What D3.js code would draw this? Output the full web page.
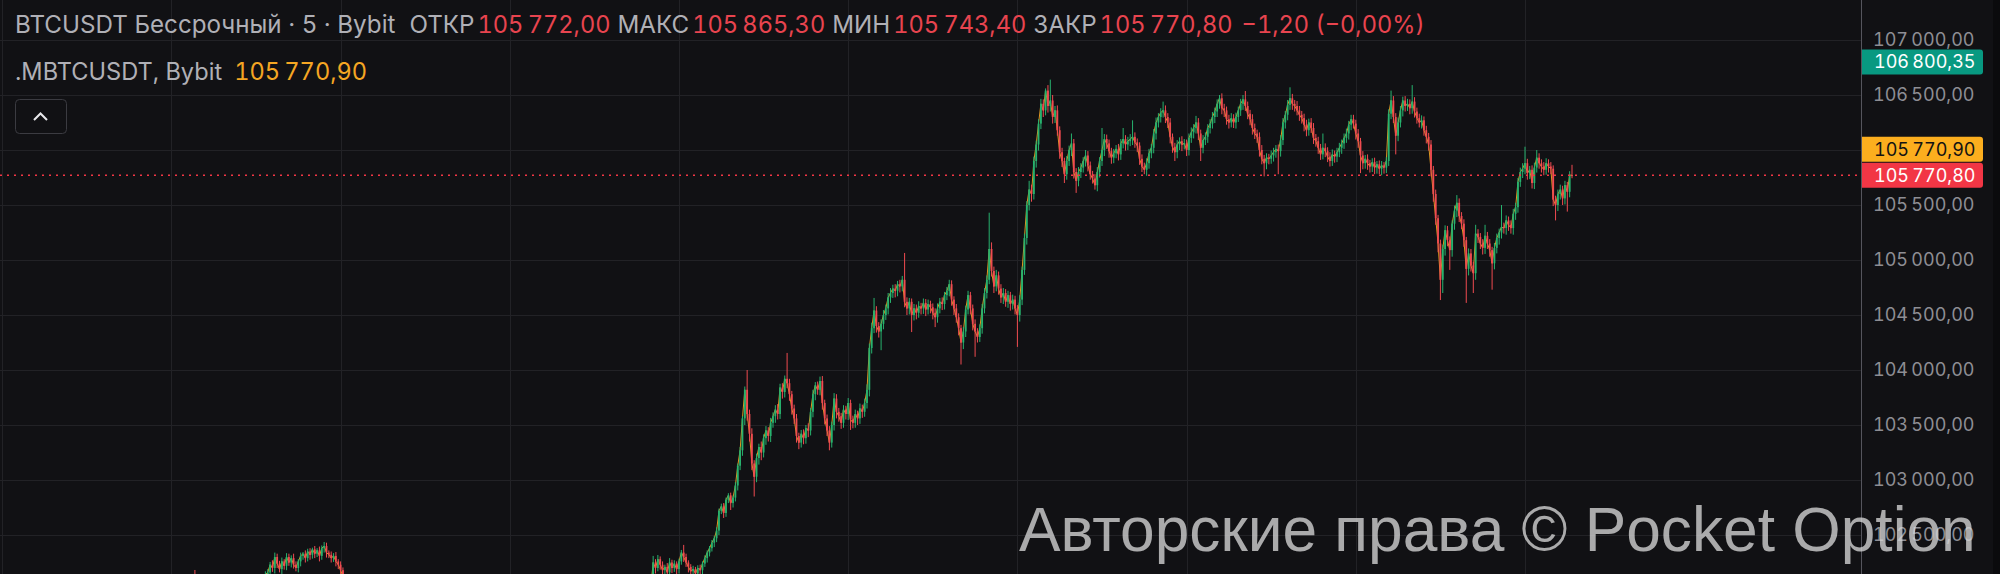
<!DOCTYPE html>
<meta charset="utf-8">
<style>
    body {
        margin: 0;
        background: #111114;
    }

    svg {
        display: block;
        font-family: Inter, 'Noto Sans', sans-serif;
        font-variant-numeric: tabular-nums;
    }
</style>
<svg width="2000" height="574"></svg>
<script src="https://d3js.org/d3.v7.min.js"></script>
<script>
    // 5 minute bars, the open of a bar is the close of the bar before it
    var firstOpen = 102000;

    var closes = [
        // 0-33, mostly under the bottom edge
        102020, 102060, 102090, 102040, 102070, 102030, 101990, 102010, 101960, 101930,
        101920, 101880, 101850, 101870, 101900, 101860, 101830, 101800, 101840, 101880,
        101910, 101890, 101930, 101960, 101940, 101980, 102010, 101990, 102030, 102060,
        102040, 102080, 102110, 102140,
        // 34-66, the small hump at the bottom left
        102160, 102230, 102200, 102300, 102240, 102190, 102260, 102220, 102300, 102250,
        102290, 102230, 102200, 102260, 102310, 102330, 102290, 102350, 102320, 102370,
        102330, 102360, 102310, 102380, 102400, 102340, 102320, 102290, 102310, 102260,
        102230, 102180, 102120,
        // 67-197, below the visible range
        102080, 102040, 101990, 102010, 101960, 101920, 101950, 101900, 101870, 101890,
        101840, 101810, 101850, 101800, 101760, 101790, 101740, 101700, 101730, 101690,
        101720, 101680, 101650, 101690, 101640, 101610, 101650, 101620, 101580, 101600,
        101560, 101590, 101540, 101570,
        101520, 101550, 101500, 101530, 101490, 101540, 101510, 101560, 101530, 101580,
        101550, 101600, 101570, 101620, 101590, 101640, 101610, 101580, 101630, 101600,
        101650, 101620, 101670, 101640, 101690, 101660, 101710, 101680, 101650, 101700,
        101670, 101650, 101690, 101660, 101640, 101680, 101650, 101630, 101660, 101640,
        101620, 101670, 101640, 101690, 101660, 101630, 101680, 101650, 101700, 101670,
        101720, 101690, 101740, 101710, 101680, 101730, 101700, 101750, 101720, 101770,
        101740, 101790, 101760, 101730, 101780, 101750, 101800, 101770, 101820, 101790,
        101840, 101810, 101780, 101830, 101800, 101850, 101820, 101870, 101840, 101890,
        101860, 101830, 101880, 101850, 101900, 101870, 101920, 101890, 101940, 101910,
        101960, 101930, 101980, 101950, 102000, 101970, 102020,
        // 198-237, climb out of the bottom
        102250, 102200, 102280, 102230, 102180, 102210, 102160, 102250, 102200, 102240,
        102190, 102260, 102340, 102300, 102250, 102210, 102170, 102190, 102150, 102200,
        102180, 102240, 102290, 102340, 102380, 102430, 102470, 102540, 102720, 102760,
        102700, 102820, 102860, 102790, 102840, 102950, 103130, 103270, 103560, 103820,
        // 238-289
        103600, 103420, 103150, 103030, 103200, 103300, 103250, 103380, 103450, 103400,
        103520, 103580, 103640, 103600, 103840, 103800, 103920, 103880, 103780, 103650,
        103560, 103400, 103340, 103420, 103380, 103470, 103450, 103620, 103780, 103860,
        103820, 103900, 103700, 103560, 103450, 103340, 103500, 103740, 103620, 103580,
        103520, 103640, 103600, 103700, 103550, 103520, 103600, 103560, 103650, 103620,
        103700, 103820,
        // 290-341
        104200, 104380, 104540, 104400, 104350, 104420, 104500, 104560, 104660, 104700,
        104740, 104720, 104780, 104760, 104820, 104620, 104560, 104620, 104500, 104560,
        104520, 104580, 104560, 104610, 104550, 104600, 104570, 104520, 104480, 104560,
        104620, 104600, 104680, 104720, 104780, 104640, 104560, 104480, 104380, 104250,
        104350, 104550, 104680, 104560, 104420, 104350, 104300, 104380, 104560, 104700,
        104820, 105100,
        // 342-366, the jump to the top
        104900, 104760, 104860, 104740, 104660, 104700, 104620, 104680, 104600, 104640,
        104560, 104500, 104640, 104910, 105200, 105500, 105640, 105600, 105900, 106050,
        106240, 106420, 106360, 106540, 106400,
        // 367-420
        106450, 106300, 106360, 106180, 105980, 105900, 105780, 105900, 106000, 106060,
        105800, 105720, 105800, 105840, 105900, 105950, 105860, 105780, 105740, 105680,
        105800, 105900, 106000, 106100, 106060, 105990, 105930, 105970, 106010, 105960,
        106060, 106100, 106050, 106080, 106100, 106120, 106070, 106040, 105920, 105850,
        105820, 105880, 105970, 106020, 106150, 106250, 106300, 106340, 106360, 106300,
        106250, 106120, 106030, 105980,
        // 421-480
        106050, 106080, 106050, 106060, 106000, 106110, 106160, 106200, 106250, 106150,
        106020, 106090, 106120, 106200, 106240, 106300, 106350, 106420, 106470, 106380,
        106360, 106280, 106250, 106290, 106250, 106300, 106360, 106420, 106460, 106400,
        106330, 106280, 106200, 106150, 106120, 106000, 105920, 105880, 105930, 105920,
        105950, 105980, 106010, 105990, 106090, 106250, 106320, 106410, 106470, 106420,
        106400, 106360, 106320, 106290, 106230, 106180, 106250, 106200, 106110, 106080,
        // 481-528
        106020, 105960, 106020, 105990, 105940, 105900, 105960, 105940, 105980, 106020,
        106060, 106110, 106150, 106230, 106280, 106240, 106150, 106080, 105950, 105880,
        105920, 105880, 105850, 105890, 105840, 105870, 105830, 105860, 105840, 105900,
        106330, 106450, 106300, 106130, 106250, 106360, 106450, 106400, 106420, 106380,
        106440, 106350, 106290, 106250, 106270, 106180, 106120, 106050,
        // 529-589, the drop and the recovery
        105820, 105600, 105380, 105150, 104820, 105100, 105270, 105180, 105090, 105330,
        105450, 105520, 105400, 105330, 105180, 104920, 105060, 104950, 104880, 105240,
        105210, 105150, 105110, 105220, 105150, 105090, 104970, 105110, 105200, 105250,
        105300, 105290, 105360, 105320, 105290, 105420, 105480, 105710, 105800, 105830,
        105880, 105790, 105820, 105700, 105840, 105930, 105880, 105850, 105820, 105880,
        105850, 105830, 105550, 105500, 105600, 105640, 105560, 105680, 105620, 105772,
        105770.8
    ];

    // distance of the high above the body, and of the low below it
    var wickUp = [
        30, 45, 40, 92, 35, 60, 25, 40, 30, 20,
        25, 30, 20, 35, 40, 25, 30, 20, 35, 30, 25, 40, 30, 20, 35, 30, 25, 40, 30, 20, 35, 30, 25, 30,
        30, 25, 40, 40, 30, 25, 35, 20, 35, 30, 25, 40, 30, 20, 30, 15, 30, 25, 30, 15,
        30, 20, 35, 25, 36, 30, 20, 30, 25, 35, 20, 30, 25,
        25, 35, 20, 30, 40, 25, 30, 20, 35, 25, 30, 40, 25, 20, 35, 30, 25, 40, 30, 20,
        35, 25, 30, 40, 25, 30, 20, 35, 25, 30, 40, 25, 30, 20,
        25, 30, 40, 20, 35, 25, 30, 45, 20, 30, 35, 25, 40, 30, 20, 35, 25, 30, 40, 25,
        30, 20, 35, 30, 25, 40, 30, 20, 35, 25, 30, 40, 25, 20, 35, 30, 25, 40, 30, 20,
        30, 25, 35, 20, 40, 30, 25, 35, 30, 20, 40, 25, 30, 35, 25, 30, 20, 40, 30, 25,
        35, 30, 20, 40, 25, 30, 35, 25, 30, 20, 40, 30, 25, 35, 30, 20, 40, 25, 30, 35,
        25, 30, 20, 40, 30, 25, 35, 30, 20, 40, 25, 30, 35, 25, 30, 20, 40,
        60, 30, 38, 25, 30, 20, 35, 40, 25, 30, 20, 25, 24, 70, 30, 20, 25, 30, 20, 25,
        30, 20, 25, 20, 20, 25, 20, 30, 20, 25, 30, 20, 20, 25, 20, 30, 20, 30, 20, 30,
        180, 40, 50, 30, 40, 30, 50, 35, 40, 30, 45, 35, 40, 50, 35, 40, 30, 235, 40, 30,
        35, 40, 30, 35, 40, 30, 45, 35, 40, 30, 35, 40, 45, 30, 35, 40, 30, 50, 40, 35,
        30, 40, 35, 45, 30, 35, 40, 30, 45, 35, 40, 50,
        40, 50, 115, 40, 35, 40, 45, 35, 40, 45, 35, 40, 30, 40, 35, 244, 40, 35, 30, 40,
        35, 45, 30, 40, 35, 40, 30, 35, 40, 45, 35, 40, 30, 35, 40, 35, 30, 40, 35, 30,
        40, 35, 40, 30, 35, 40, 30, 35, 40, 45, 40, 330,
        60, 40, 50, 35, 40, 45, 35, 40, 30, 45, 35, 30, 40, 30, 40, 35, 80, 45, 40, 35,
        40, 45, 40, 20, 50,
        190, 50, 40, 45, 35, 40, 30, 45, 40, 90, 40, 35, 45, 40, 35, 50, 40, 35, 30, 40,
        45, 35, 200, 45, 40, 35, 30, 40, 35, 45, 40, 100, 35, 40, 45, 150, 40, 35, 30, 40,
        35, 45, 40, 35, 40, 45, 35, 40, 80, 45, 35, 40, 30, 35,
        40, 35, 45, 40, 35, 40, 45, 35, 60, 40, 35, 45, 40, 35, 40, 45, 35, 40, 30, 45,
        40, 35, 40, 45, 35, 40, 35, 45, 40, 76, 40, 35, 45, 40, 35, 40, 45, 35, 40, 35,
        45, 40, 35, 40, 45, 40, 35, 45, 100, 40, 35, 45, 40, 35, 40, 45, 35, 40, 45, 35,
        40, 35, 130, 40, 35, 40, 45, 35, 40, 45, 35, 40, 45, 35, 40, 40, 35, 40, 30, 40,
        35, 40, 30, 35, 40, 30, 35, 40, 30, 35, 40, 90, 40, 35, 45, 40, 35, 40, 45, 40,
        150, 40, 35, 40, 45, 35, 40, 35,
        40, 35, 40, 30, 35, 40, 45, 40, 35, 30, 45, 70, 40, 35, 40, 30, 45, 40, 35, 80,
        40, 35, 40, 100, 35, 40, 30, 45, 40, 35, 200, 40, 45, 35, 40, 45, 40, 35, 40, 50,
        150, 40, 35, 40, 45, 70, 40, 35, 40, 45, 35, 40, 30, 35, 40, 45, 35, 40, 30, 35,
        93.3
    ];

    var wickDown = [
        30, 25, 40, 35, 30, 45, 30, 25, 40, 30,
        30, 20, 35, 25, 30, 40, 20, 30, 25, 35, 30, 20, 25, 40, 30, 25, 35, 20, 30, 25, 40, 30, 20, 25,
        40, 30, 35, 50, 40, 30, 45, 35, 40, 30, 45, 35, 30, 40, 45, 35, 40, 30, 45, 35,
        40, 30, 50, 35, 40, 45, 30, 40, 35, 45, 40, 35, 50,
        30, 25, 40, 20, 35, 30, 25, 40, 30, 20, 35, 25, 30, 40, 20, 35, 30, 25, 40, 30,
        20, 35, 25, 30, 40, 20, 35, 30, 25, 40, 30, 20, 35, 25,
        30, 20, 35, 25, 40, 30, 20, 35, 30, 25, 40, 20, 30, 35, 25, 30, 40, 20, 30, 35,
        25, 30, 20, 40, 30, 25, 35, 30, 20, 40, 25, 30, 35, 20, 30, 40, 25, 30, 20, 35,
        25, 35, 30, 40, 20, 30, 35, 25, 40, 30, 20, 35, 30, 25, 40, 30, 20, 35, 25, 30,
        40, 25, 30, 35, 20, 30, 40, 25, 35, 30, 20, 40, 30, 25, 35, 30, 20, 40, 25, 30,
        35, 20, 30, 40, 25, 30, 35, 20, 30, 40, 25, 30, 20, 35, 40, 30, 25,
        40, 50, 30, 45, 40, 35, 50, 40, 45, 35, 50, 40, 30, 45, 40, 50, 35, 40, 45, 30,
        40, 35, 30, 40, 35, 30, 40, 35, 40, 30, 45, 35, 30, 63, 40, 35, 45, 40, 50, 60,
        60, 70, 60, 180, 50, 60, 70, 45, 60, 50, 55, 45, 60, 50, 45, 60, 50, 45, 60, 55,
        50, 60, 60, 45, 55, 50, 60, 45, 50, 55, 45, 50, 60, 55, 50, 70, 45, 50, 60, 50,
        55, 45, 50, 55, 95, 50, 45, 60, 50, 55, 45, 50,
        60, 50, 45, 60, 55, 170, 50, 45, 55, 50, 45, 60, 50, 55, 45, 50, 60, 55, 155, 50,
        60, 45, 55, 50, 60, 45, 55, 60, 90, 50, 45, 55, 50, 45, 50, 55, 60, 50, 65, 200,
        60, 50, 45, 55, 60, 230, 50, 45, 50, 45, 50, 40,
        50, 60, 45, 55, 50, 60, 45, 55, 60, 50, 55, 290, 60, 50, 45, 60, 50, 70, 50, 60,
        55, 50, 60, 45, 60,
        50, 60, 55, 50, 60, 55, 80, 50, 45, 55, 60, 110, 50, 55, 45, 50, 55, 50, 45, 40,
        55, 50, 45, 55, 50, 60, 55, 50, 45, 55, 50, 45, 55, 50, 45, 55, 50, 60, 55, 50,
        40, 55, 50, 45, 50, 55, 45, 50, 45, 55, 50, 60, 55, 80,
        55, 50, 60, 45, 55, 50, 45, 55, 50, 60, 120, 50, 45, 55, 50, 45, 55, 50, 45, 55,
        60, 50, 55, 45, 50, 55, 45, 50, 55, 45, 50, 55, 60, 50, 55, 60, 50, 120, 55, 50,
        45, 55, 50, 210, 50, 45, 55, 50, 45, 55, 50, 45, 55, 50, 60, 55, 50, 45, 55, 50,
        55, 50, 45, 55, 50, 50, 45, 55, 50, 45, 55, 50, 45, 55, 50, 45, 55, 60, 160, 55,
        50, 60, 55, 50, 60, 55, 50, 60, 55, 50, 45, 50, 55, 170, 50, 45, 55, 50, 45, 55,
        50, 55, 50, 45, 55, 50, 60, 55,
        60, 70, 60, 80, 184, 120, 60, 55, 180, 60, 55, 60, 55, 50, 60, 310, 60, 55, 180, 60,
        55, 50, 60, 55, 50, 60, 240, 55, 50, 60, 55, 50, 60, 55, 50, 60, 55, 50, 45, 55,
        50, 60, 55, 50, 55, 45, 50, 55, 50, 45, 55, 50, 60, 140, 55, 50, 60, 55, 180, 50,
        27.4
    ];

    var priceTicks = [107000, 106500, 106000, 105500, 105000, 104500, 104000, 103500, 103000, 102500];
    var markPrice = 105770.90;      // .MBTCUSDT
    var markerPrice = 106800.35;    // green tag on the scale

    var upColor = "#27b26e",
        downColor = "#f04b50",
        markColor = "#f5a623",
        gridColor = "#222226",
        labelColor = "#b0b0b6",
        axisTextColor = "#8e8e94";

    var bars = closes.map(function (c, i) {
        var o = i === 0 ? firstOpen : closes[i - 1];
        return {
            i: i,
            open: o,
            close: c,
            high: Math.max(o, c) + wickUp[i],
            low: Math.min(o, c) - wickDown[i]
        };
    });
    var last = bars[bars.length - 1];

    var fmt = d3.formatLocale({decimal: ",", thousands: "\u2009", grouping: [3], currency: ["", ""]})
        .format(",.2f");

    var svg = d3.select("svg"),
        width = +svg.attr("width"),
        height = +svg.attr("height"),
        axisX = 1861,
        barStep = 2.35,
        lastBarX = 1572;

    var x = d3.scaleLinear()
        .domain([0, bars.length - 1])
        .range([lastBarX - (bars.length - 1) * barStep, lastBarX]);

    var y = d3.scaleLinear()
        .domain([102500, 107000])
        .range([535, 40]);

    svg.append("rect")
        .attr("width", width)
        .attr("height", height)
        .attr("fill", "#111114");

    // grid: one vertical line every 6 hours (72 bars)
    var grid = svg.append("g");
    grid.selectAll(".vgrid")
        .data(d3.range(bars.length - 21, -100, -72))
        .enter().append("line")
        .attr("x1", function (d) { return Math.round(x(d)) + 0.5; })
        .attr("x2", function (d) { return Math.round(x(d)) + 0.5; })
        .attr("y1", 0)
        .attr("y2", height)
        .attr("stroke", gridColor);
    grid.selectAll(".hgrid")
        .data(priceTicks)
        .enter().append("line")
        .attr("x1", 0)
        .attr("x2", axisX)
        .attr("y1", function (d) { return Math.round(y(d)) + 0.5; })
        .attr("y2", function (d) { return Math.round(y(d)) + 0.5; })
        .attr("stroke", gridColor);

    svg.append("clipPath")
        .attr("id", "plot-clip")
        .append("rect")
        .attr("width", axisX)
        .attr("height", height);

    var plot = svg.append("g").attr("clip-path", "url(#plot-clip)");

    // mark price line, under the candles
    plot.append("path")
        .datum(bars)
        .attr("fill", "none")
        .attr("stroke", markColor)
        .attr("stroke-width", 1)
        .attr("opacity", 0.9)
        .attr("d", d3.line()
            .x(function (d) { return x(d.i); })
            .y(function (d) { return y(d.close); }));

    plot.selectAll(".wick")
        .data(bars)
        .enter().append("line")
        .attr("class", "wick")
        .attr("x1", function (d) { return x(d.i); })
        .attr("x2", function (d) { return x(d.i); })
        .attr("y1", function (d) { return y(d.high); })
        .attr("y2", function (d) { return y(d.low); })
        .attr("stroke", function (d) { return d.close >= d.open ? upColor : downColor; })
        .attr("stroke-width", 1);

    plot.selectAll(".body")
        .data(bars)
        .enter().append("rect")
        .attr("class", "body")
        .attr("x", function (d) { return x(d.i) - 0.9; })
        .attr("width", 1.8)
        .attr("y", function (d) { return y(Math.max(d.open, d.close)); })
        .attr("height", function (d) { return Math.max(1, Math.abs(y(d.open) - y(d.close))); })
        .attr("fill", function (d) { return d.close >= d.open ? upColor : downColor; });

    // last price line
    plot.append("line")
        .attr("x1", 0)
        .attr("x2", axisX)
        .attr("y1", y(last.close))
        .attr("y2", y(last.close))
        .attr("stroke", "#f23645")
        .attr("stroke-width", 1.5)
        .attr("stroke-dasharray", "2,5");

    // legend rows (labels a touch larger than the numbers)
    var valueColor = last.close >= last.open ? upColor : "#e8444f";
    var change = last.close - last.open;
    var changeText = (change < 0 ? "−" : "+") + fmt(Math.abs(change)) + " (" +
        (change < 0 ? "−" : "+") + fmt(Math.abs(change / last.open * 100)) + "%)";

    var row1 = [
        {text: "BTCUSDT Бессрочный · 5 · Bybit", color: labelColor, dx: 0, size: 24.2},
        {text: "ОТКР", color: labelColor, dx: 14, size: 24.2},
        {text: fmt(last.open), color: valueColor, dx: 3, size: 23.6},
        {text: "МАКС", color: labelColor, dx: 7, size: 24.2},
        {text: fmt(last.high), color: valueColor, dx: 3, size: 23.6},
        {text: "МИН", color: labelColor, dx: 7, size: 24.2},
        {text: fmt(last.low), color: valueColor, dx: 3, size: 23.6},
        {text: "ЗАКР", color: labelColor, dx: 7, size: 24.2},
        {text: fmt(last.close), color: valueColor, dx: 3, size: 23.6},
        {text: changeText, color: valueColor, dx: 9, size: 23.6}
    ];
    var row2 = [
        {text: ".MBTCUSDT, Bybit", color: labelColor, dx: 0, size: 23.6},
        {text: fmt(markPrice), color: markColor, dx: 12, size: 23.6}
    ];

    [[row1, 33], [row2, 80]].forEach(function (r) {
        svg.append("text")
            .attr("x", 15)
            .attr("y", r[1])
            .selectAll("tspan")
            .data(r[0])
            .enter().append("tspan")
            .attr("dx", function (d) { return d.dx; })
            .attr("font-size", function (d) { return d.size; })
            .attr("fill", function (d) { return d.color; })
            .text(function (d) { return d.text; });
    });

    // collapse button
    svg.append("rect")
        .attr("x", 15.5)
        .attr("y", 99.5)
        .attr("width", 51)
        .attr("height", 34)
        .attr("rx", 4)
        .attr("fill", "#111114")
        .attr("stroke", "#3b3b41");
    svg.append("path")
        .attr("d", "M34,120L40.5,113.5L47,120")
        .attr("fill", "none")
        .attr("stroke", "#e8e8ec")
        .attr("stroke-width", 2);

    // price scale
    svg.append("rect")
        .attr("x", axisX)
        .attr("width", width - axisX)
        .attr("height", height)
        .attr("fill", "#111114");
    svg.append("rect")
        .attr("x", 1993)
        .attr("width", width - 1993)
        .attr("height", height)
        .attr("fill", "#0b0b0d");
    svg.append("line")
        .attr("x1", axisX + 0.5)
        .attr("x2", axisX + 0.5)
        .attr("y1", 0)
        .attr("y2", height)
        .attr("stroke", "#55555d");

    var yAxis = svg.append("g")
        .attr("transform", "translate(" + axisX + ",0)")
        .call(d3.axisRight(y)
            .tickValues(priceTicks)
            .tickFormat(fmt)
            .tickSize(0)
            .tickPadding(12));
    yAxis.select(".domain").remove();
    yAxis.selectAll("text")
        .attr("fill", axisTextColor)
        .attr("font-size", 18)
        .attr("font-family", "Inter, sans-serif");

    // tags on the price scale
    var redTop = y(last.close) - 12.5;
    var tags = [
        {price: markerPrice, top: y(markerPrice) - 12.5, fill: "#089981", color: "#ffffff"},
        {price: markPrice, top: redTop - 26, fill: "#fcae1e", color: "#131313"},
        {price: last.close, top: redTop, fill: "#f23645", color: "#ffffff"}
    ];
    var tag = svg.selectAll(".tag")
        .data(tags)
        .enter().append("g")
        .attr("transform", function (d) { return "translate(" + (axisX + 1) + "," + d.top + ")"; });
    tag.append("path")
        .attr("d", "M0,0H118a3,3 0 0 1 3,3V22a3,3 0 0 1 -3,3H0Z")
        .attr("fill", function (d) { return d.fill; });
    tag.append("text")
        .attr("x", 12)
        .attr("y", 12.5)
        .attr("dy", "0.35em")
        .attr("font-size", 18)
        .attr("fill", function (d) { return d.color; })
        .text(function (d) { return fmt(d.price); });

    // watermark
    var mark = svg.append("text")
        .attr("x", 1019)
        .attr("y", 551)
        .attr("font-family", "'Liberation Sans', Arial, sans-serif")
        .attr("font-size", 63)
        .attr("fill", "#d6d6d6")
        .attr("opacity", 0.78)
        .text("Авторские права © Pocket Option");
    var markWidth = mark.node().getComputedTextLength();
    mark.attr("font-size", 63 * 957 / markWidth);
</script>
